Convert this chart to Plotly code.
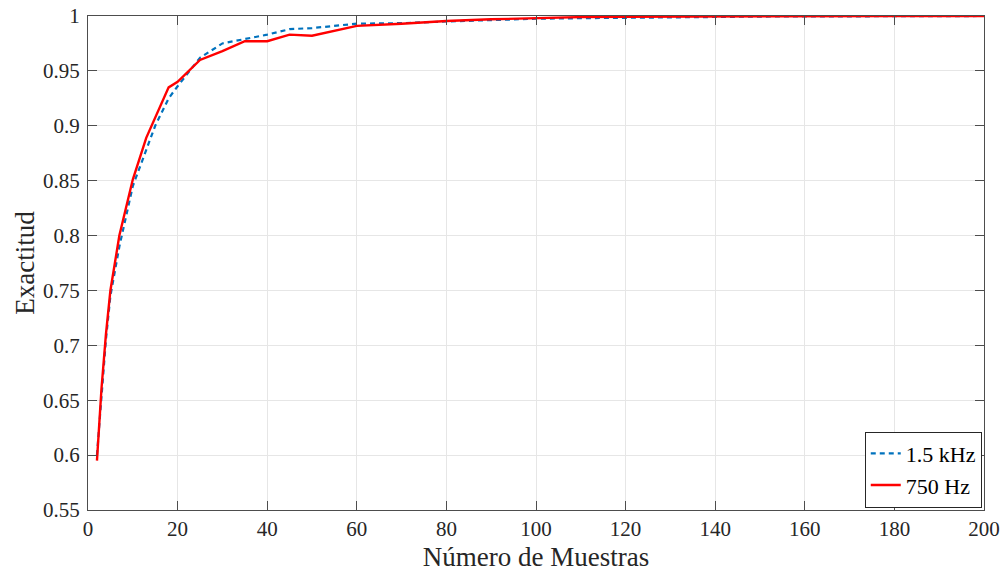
import plotly.graph_objects as go

# Number of samples
n_samples = [2, 3, 4, 5, 7, 10, 13, 15, 18, 20, 25, 30, 35, 40, 45, 50,
             60, 70, 80, 90, 100, 110, 120, 130, 140, 150, 160, 170, 180, 190, 200]

# Accuracy at 1.5 kHz sampling
acc_1k5 = [0.60, 0.655, 0.705, 0.745, 0.79, 0.845, 0.878, 0.90, 0.925, 0.936,
           0.962, 0.975, 0.979, 0.983, 0.988, 0.989,
           0.993, 0.9935, 0.995, 0.9965, 0.9975, 0.998, 0.9985, 0.999, 0.9993,
           0.9995, 0.9996, 0.9997, 0.9998, 0.9999, 1.0]

# Accuracy at 750 Hz sampling
acc_750 = [0.595, 0.66, 0.71, 0.75, 0.80, 0.851, 0.889, 0.907, 0.935, 0.940,
           0.960, 0.968, 0.977, 0.977, 0.983, 0.982,
           0.991, 0.993, 0.9955, 0.997, 0.998, 0.999, 0.9993, 0.9995, 0.9997,
           0.9998, 0.9999, 1.0, 1.0, 1.0, 1.0]

x_ticks = [0, 20, 40, 60, 80, 100, 120, 140, 160, 180, 200]
y_ticks = [0.55, 0.6, 0.65, 0.7, 0.75, 0.8, 0.85, 0.9, 0.95, 1.0]
y_tick_text = ["0.55", "0.6", "0.65", "0.7", "0.75", "0.8", "0.85", "0.9", "0.95", "1"]

FONT = "Liberation Serif, Times New Roman, serif"
AXIS_COLOR = "#4d4d4d"

fig = go.Figure()
fig.add_trace(go.Scatter(
    x=n_samples, y=acc_1k5, mode="lines", name="1.5 kHz",
    line=dict(color="#0072BD", width=2.2, dash="5px,4px"),
))
fig.add_trace(go.Scatter(
    x=n_samples, y=acc_750, mode="lines", name="750 Hz",
    line=dict(color="#FF0000", width=2.4),
))

axis_common = dict(
    showline=True, linecolor=AXIS_COLOR, linewidth=1.3, mirror="ticks",
    ticks="inside", ticklen=9, tickwidth=1.2, tickcolor=AXIS_COLOR,
    showgrid=True, gridcolor="#e6e6e6", gridwidth=1,
    zeroline=False, automargin=False,
    tickfont=dict(family=FONT, size=21, color="#262626"),
)

fig.update_layout(
    width=1005, height=575,
    margin=dict(l=88, r=21, t=16, b=65),
    paper_bgcolor="white", plot_bgcolor="white",
    font=dict(family=FONT, size=21, color="#262626"),
    xaxis=dict(
        range=[0, 200], tickvals=x_ticks,
        title=dict(text="Número de Muestras", font=dict(family=FONT, size=27), standoff=6),
        **axis_common,
    ),
    yaxis=dict(
        range=[0.55, 1.0], tickvals=y_ticks, ticktext=y_tick_text,
        title=dict(text="Exactitud", font=dict(family=FONT, size=27), standoff=0),
        ticklabelstandoff=3,
        **axis_common,
    ),
    legend=dict(
        x=0.9975, y=0.005, xanchor="right", yanchor="bottom",
        bgcolor="white", bordercolor="#262626", borderwidth=1,
        font=dict(family=FONT, size=22, color="#000000"),
        itemwidth=30, tracegroupgap=0,
    ),
    showlegend=True,
)

fig.write_html("out.html")
